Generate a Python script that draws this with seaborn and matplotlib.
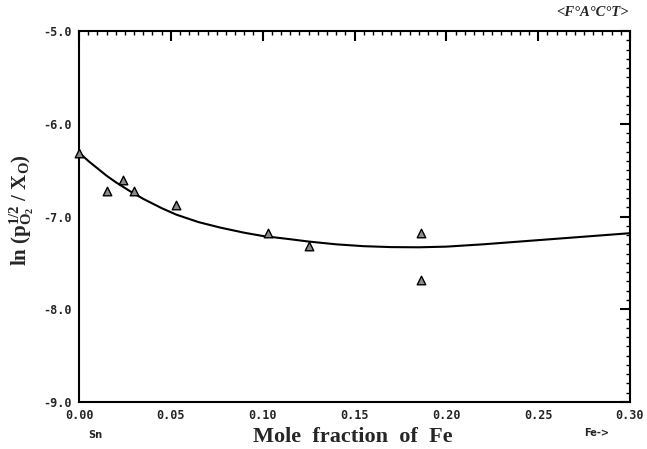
import matplotlib
matplotlib.use("Agg")
import matplotlib.pyplot as plt
import seaborn as sns
import pandas as pd
from matplotlib.ticker import MultipleLocator

# measured points
x_pts = [0.000, 0.015, 0.024, 0.030, 0.053, 0.103, 0.125, 0.186, 0.186]
y_pts = [-6.31, -6.72, -6.61, -6.72, -6.88, -7.18, -7.32, -7.18, -7.68]

# fitted curve
x_fit = [0.000, 0.005, 0.010, 0.015, 0.020, 0.028, 0.035, 0.045, 0.053, 0.065, 0.077,
         0.090, 0.100, 0.115, 0.125, 0.140, 0.155, 0.170, 0.185, 0.200, 0.220,
         0.240, 0.260, 0.280, 0.300]
y_fit = [-6.31, -6.40, -6.48, -6.56, -6.63, -6.73, -6.81, -6.91, -6.98, -7.06, -7.12,
         -7.175, -7.21, -7.245, -7.27, -7.30, -7.32, -7.33, -7.332, -7.325, -7.30,
         -7.27, -7.24, -7.21, -7.18]

x_ticks = [0.00, 0.05, 0.10, 0.15, 0.20, 0.25, 0.30]
x_tick_labels = ["0.00", "0.05", "0.10", "0.15", "0.20", "0.25", "0.30"]
y_ticks = [-9.0, -8.0, -7.0, -6.0, -5.0]
y_tick_labels = ["-9.0", "-8.0", "-7.0", "-6.0", "-5.0"]

sns.set_style("white")
plt.rcParams["mathtext.fontset"] = "custom"
plt.rcParams["mathtext.rm"] = "Liberation Serif:bold"
plt.rcParams["mathtext.it"] = "Liberation Serif:bold"
plt.rcParams["mathtext.bf"] = "Liberation Serif:bold"

fig = plt.figure(figsize=(6.47, 4.49), dpi=100)
ax = fig.add_axes([79/647, 1-402/449, (630-79)/647, (402-31)/449])

sns.lineplot(data=pd.DataFrame({"x": x_fit, "y": y_fit}), x="x", y="y", ax=ax,
             color="black", linewidth=1.5, sort=False, estimator=None)
sns.scatterplot(data=pd.DataFrame({"x": x_pts, "y": y_pts}), x="x", y="y", ax=ax,
                marker="^", s=38, color="#8a8a8a", edgecolor="black", linewidth=1.0,
                zorder=5, clip_on=False)

ax.set_xlim(0, 0.30)
ax.set_ylim(-9.0, -5.0)
ax.set_xticks(x_ticks)
ax.set_xticklabels(x_tick_labels)
ax.set_yticks(y_ticks)
ax.set_yticklabels(y_tick_labels)
ax.xaxis.set_minor_locator(MultipleLocator(0.005))
ax.yaxis.set_minor_locator(MultipleLocator(0.1))
ax.tick_params(which="both", direction="in", top=True, right=True, color="black")
ax.tick_params(which="major", length=7, width=1.5)
ax.tick_params(which="minor", length=3, width=1.0)
for lab in ax.get_xticklabels() + ax.get_yticklabels():
    lab.set_fontfamily("DejaVu Sans Mono")
    lab.set_fontweight("bold")
    lab.set_fontsize(8.5)
ax.tick_params(axis="x", pad=5)
ax.tick_params(axis="y", pad=5)
for sp in ax.spines.values():
    sp.set_visible(True)
    sp.set_color("black")
    sp.set_linewidth(1.5)

ax.set_xlabel("")
ax.set_ylabel("")
fig.text(22/647, 1-210/449,
         r"ln (p$_{\mathregular{O_2}}^{\mathregular{1/2}}$ / X$_{\mathregular{O}}$)",
         fontfamily="Liberation Serif", fontweight="bold", fontsize=15,
         rotation=90, ha="center", va="center")

fig.text(353/647, 1-437/449, "Mole  fraction  of  Fe", fontfamily="Liberation Serif",
         fontweight="bold", fontsize=16, ha="center", va="center")
fig.text(95/647, 1-435/449, "Sn", fontfamily="DejaVu Sans", fontweight="bold", fontsize=7,
         ha="center", va="center")
fig.text(597/647, 1-433/449, "Fe->", fontfamily="DejaVu Sans", fontweight="bold", fontsize=7,
         ha="center", va="center")
fig.text(629/647, 1-13/449, "<F°A°C°T>", fontfamily="Liberation Serif", fontweight="bold",
         fontstyle="italic", fontsize=10.5, ha="right", va="center")

fig.savefig("out.png", dpi=100)
